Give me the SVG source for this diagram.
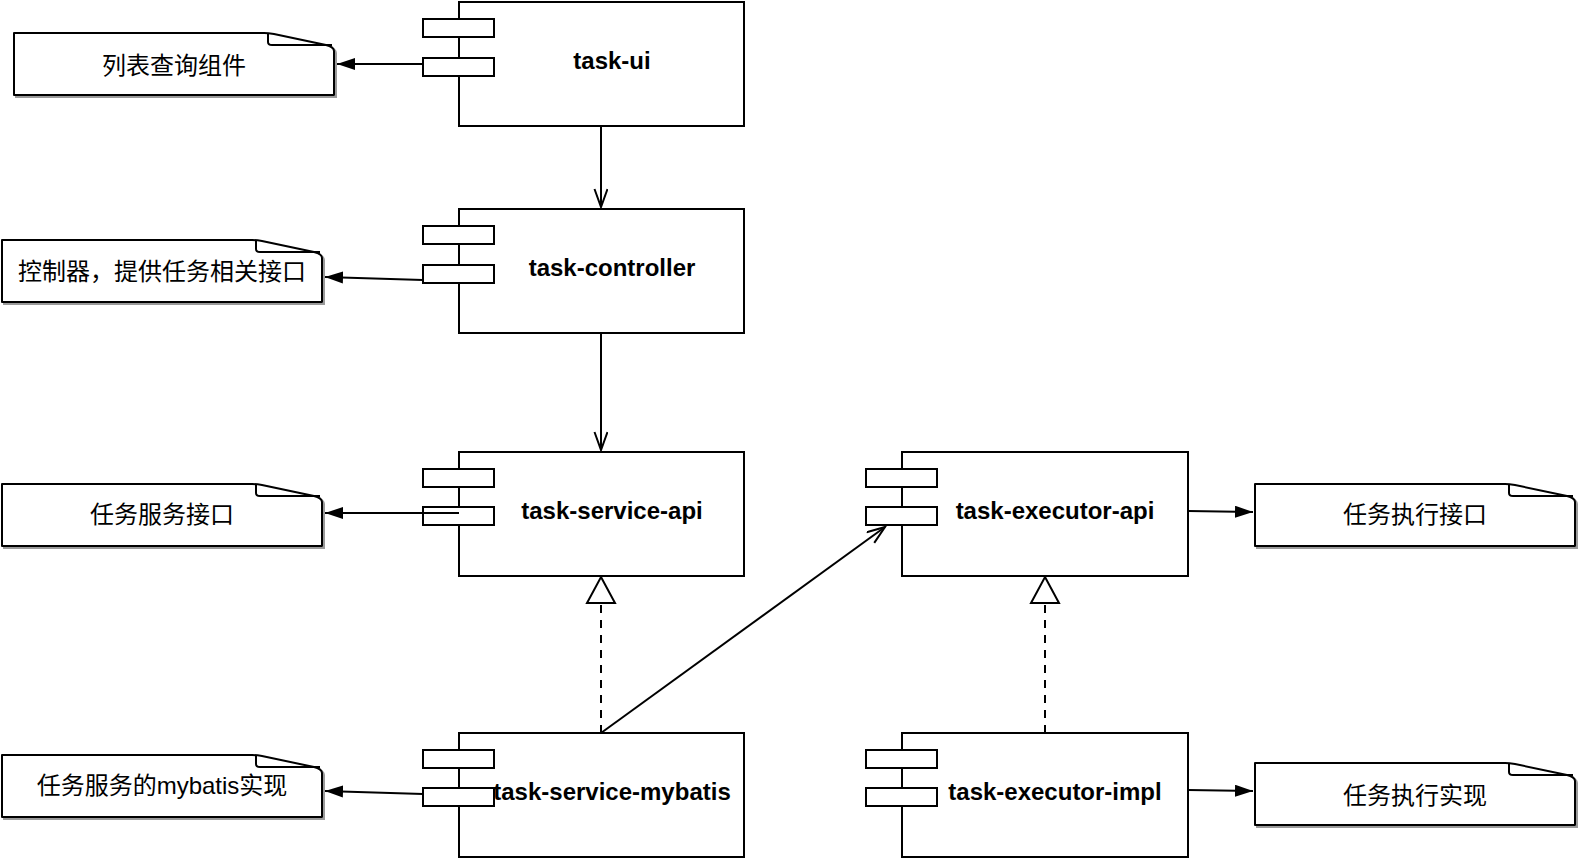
<svg xmlns="http://www.w3.org/2000/svg" width="1578" height="858" viewBox="0 0 1578 858">
<style>
.box{fill:#fff;stroke:#000;stroke-width:2}
.port{fill:#fff;stroke:#000;stroke-width:2}
.lbl{font-family:"Liberation Sans",Arial,sans-serif;font-weight:bold;font-size:24px;fill:#000;text-anchor:middle}
.note{fill:#fff;stroke:#000;stroke-width:2;stroke-linejoin:round}
.shadow{fill:none;stroke:#9a9a9a;stroke-width:2}
.ntxt{font-family:"Liberation Sans","Noto Sans CJK SC",sans-serif;font-size:24px;fill:#000;text-anchor:middle}
.edge{fill:none;stroke:#000;stroke-width:2}
.dash{fill:none;stroke:#000;stroke-width:2;stroke-dasharray:8 7}
.tri{fill:#fff;stroke:#000;stroke-width:2;stroke-linejoin:miter}
</style>
<defs>
<marker id="filled" markerUnits="userSpaceOnUse" markerWidth="20" markerHeight="14" refX="18" refY="6" orient="auto">
<path d="M0,0 L18,6 L0,12 Z" fill="#000"/>
</marker>
<marker id="open" markerUnits="userSpaceOnUse" markerWidth="22" markerHeight="16" refX="19" refY="7" orient="auto">
<path d="M1,0.5 L19,7 L1,13.5" fill="none" stroke="#000" stroke-width="2"/>
</marker>
<path id="notePath" d="M0,0 H250 Q254,0 260,1 L312,12 Q320,14 320,18 V62 H0 Z"/>
<path id="foldPath" d="M254,1 V9 Q254,12 258,12 H318"/>
</defs>

<!-- notes -->
<g id="note-ui" transform="translate(14,33)">
<use href="#notePath" class="shadow" x="2" y="2"/>
<use href="#notePath" class="note"/>
<use href="#foldPath" class="edge"/>
<text class="ntxt" x="160" y="41">列表查询组件</text>
</g>
<g id="note-controller" transform="translate(2,240)">
<use href="#notePath" class="shadow" x="2" y="2"/>
<use href="#notePath" class="note"/>
<use href="#foldPath" class="edge"/>
<text class="ntxt" x="160" y="40">控制器，提供任务相关接口</text>
</g>
<g id="note-service-api" transform="translate(2,484)">
<use href="#notePath" class="shadow" x="2" y="2"/>
<use href="#notePath" class="note"/>
<use href="#foldPath" class="edge"/>
<text class="ntxt" x="160" y="39">任务服务接口</text>
</g>
<g id="note-service-mybatis" transform="translate(2,755)">
<use href="#notePath" class="shadow" x="2" y="2"/>
<use href="#notePath" class="note"/>
<use href="#foldPath" class="edge"/>
<text class="ntxt" x="160" y="39">任务服务的mybatis实现</text>
</g>
<g id="note-executor-api" transform="translate(1255,484)">
<use href="#notePath" class="shadow" x="2" y="2"/>
<use href="#notePath" class="note"/>
<use href="#foldPath" class="edge"/>
<text class="ntxt" x="160" y="39">任务执行接口</text>
</g>
<g id="note-executor-impl" transform="translate(1255,763)">
<use href="#notePath" class="shadow" x="2" y="2"/>
<use href="#notePath" class="note"/>
<use href="#foldPath" class="edge"/>
<text class="ntxt" x="160" y="41">任务执行实现</text>
</g>

<!-- components -->
<g id="task-ui" transform="translate(459,2)">
<rect class="box" x="0" y="0" width="285" height="124"/>
<rect class="port" x="-36" y="17" width="71" height="18"/>
<rect class="port" x="-36" y="56" width="71" height="18"/>
<text class="lbl" x="153" y="67">task-ui</text>
</g>
<g id="task-controller" transform="translate(459,209)">
<rect class="box" x="0" y="0" width="285" height="124"/>
<rect class="port" x="-36" y="17" width="71" height="18"/>
<rect class="port" x="-36" y="56" width="71" height="18"/>
<text class="lbl" x="153" y="67">task-controller</text>
</g>
<g id="task-service-api" transform="translate(459,452)">
<rect class="box" x="0" y="0" width="285" height="124"/>
<rect class="port" x="-36" y="17" width="71" height="18"/>
<rect class="port" x="-36" y="55" width="71" height="18"/>
<text class="lbl" x="153" y="67">task-service-api</text>
</g>
<g id="task-service-mybatis" transform="translate(459,733)">
<rect class="box" x="0" y="0" width="285" height="124"/>
<rect class="port" x="-36" y="17" width="71" height="18"/>
<rect class="port" x="-36" y="55" width="71" height="18"/>
<text class="lbl" x="153" y="67">task-service-mybatis</text>
</g>
<g id="task-executor-api" transform="translate(902,452)">
<rect class="box" x="0" y="0" width="286" height="124"/>
<rect class="port" x="-36" y="17" width="71" height="18"/>
<rect class="port" x="-36" y="55" width="71" height="18"/>
<text class="lbl" x="153" y="67">task-executor-api</text>
</g>
<g id="task-executor-impl" transform="translate(902,733)">
<rect class="box" x="0" y="0" width="286" height="124"/>
<rect class="port" x="-36" y="17" width="71" height="18"/>
<rect class="port" x="-36" y="55" width="71" height="18"/>
<text class="lbl" x="153" y="67">task-executor-impl</text>
</g>

<!-- connectors -->
<g id="connectors">
<line class="edge" x1="423" y1="64" x2="337" y2="64" marker-end="url(#filled)"/>
<line class="edge" x1="423" y1="280" x2="325" y2="277" marker-end="url(#filled)"/>
<line class="edge" x1="459" y1="513" x2="325" y2="513" marker-end="url(#filled)"/>
<line class="edge" x1="423" y1="794" x2="325" y2="791" marker-end="url(#filled)"/>
<line class="edge" x1="1188" y1="511" x2="1253" y2="512" marker-end="url(#filled)"/>
<line class="edge" x1="1188" y1="790" x2="1253" y2="791" marker-end="url(#filled)"/>
<line class="edge" x1="601" y1="126" x2="601" y2="207" marker-end="url(#open)"/>
<line class="edge" x1="601" y1="333" x2="601" y2="450" marker-end="url(#open)"/>
<line class="edge" x1="601" y1="733" x2="885" y2="527" marker-end="url(#open)"/>
<line class="dash" x1="601" y1="733" x2="601" y2="604"/>
<polygon class="tri" points="601,577 615,603 587,603"/>
<line class="dash" x1="1045" y1="733" x2="1045" y2="604"/>
<polygon class="tri" points="1045,577 1059,603 1031,603"/>
</g>
</svg>
